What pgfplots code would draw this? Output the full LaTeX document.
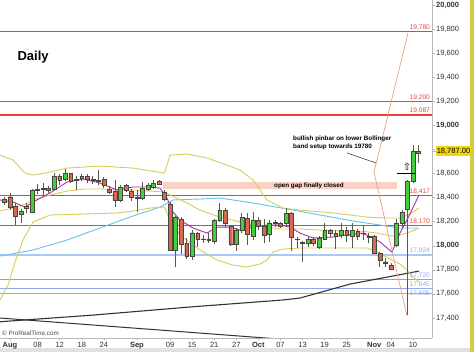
\documentclass[border=0pt]{standalone}
\usepackage{fontspec}
\setmainfont{Liberation Sans}
\newfontfamily\symfont{DejaVu Sans}
\usepackage{pgfplots}
\pgfplotsset{compat=1.18}
\usepackage{pgfplotstable}

\definecolor{cgreen}{RGB}{70,205,60}
\definecolor{cred}{RGB}{215,105,80}
\definecolor{cedge}{RGB}{70,70,60}
\definecolor{cwick}{RGB}{90,90,80}
\definecolor{bandyel}{RGB}{215,205,90}
\definecolor{magma}{RGB}{175,45,170}
\definecolor{skyb}{RGB}{100,195,240}
\definecolor{levelred}{RGB}{240,60,60}
\definecolor{lred}{RGB}{235,70,70}
\definecolor{hblue1}{RGB}{170,200,245}
\definecolor{hblue2}{RGB}{135,160,240}
\definecolor{lblue}{RGB}{140,170,240}
\definecolor{salmonline}{RGB}{240,160,130}
\definecolor{gapfill}{RGB}{250,210,195}
\definecolor{tagyel}{RGB}{240,215,20}
\definecolor{stripe}{RGB}{212,204,70}
\definecolor{bottomgray}{RGB}{225,225,225}

\pgfplotstableread{
x o h l c
-1 18385 18407 18338 18363
0 18407 18440 18296 18319
1 18330 18352 18169 18247
2 18263 18302 18186 18283
3 18310 18352 18269 18330
4 18280 18470 18269 18460
5 18462 18510 18430 18468
6 18468 18525 18425 18474
7 18460 18500 18440 18478
8 18470 18605 18460 18580
9 18580 18595 18505 18545
10 18555 18640 18535 18600
11 18600 18607 18525 18535
12 18548 18580 18460 18554
13 18560 18593 18540 18577
14 18580 18593 18525 18552
15 18552 18580 18510 18546
16 18546 18627 18505 18540
17 18552 18571 18483 18505
18 18470 18495 18430 18448
19 18455 18545 18325 18377
20 18377 18507 18360 18488
21 18500 18515 18445 18460
22 18455 18470 18375 18405
23 18393 18460 18283 18400
24 18393 18532 18380 18476
25 18470 18520 18455 18505
26 18490 18545 18470 18520
27 18535 18545 18505 18515
28 18445 18465 18370 18385
29 18347 18360 17955 17962
30 17962 18248 17820 18240
31 18220 18236 17931 18012
32 18020 18062 17886 17915
33 17915 18130 17880 18108
34 18103 18117 17992 18053
35 18056 18089 18020 18050
36 18044 18103 18025 18050
37 18034 18219 18014 18208
38 18208 18358 18200 18291
39 18291 18310 18158 18186
40 18158 18172 18000 18014
41 18014 18145 17959 18130
42 18130 18275 18103 18236
43 18227 18269 18006 18097
44 18075 18283 18047 18214
45 18208 18241 18130 18158
46 18158 18219 18020 18089
47 18097 18214 18034 18191
48 18188 18214 18158 18194
49 18186 18200 18150 18164
50 18186 18310 18172 18269
51 18269 18283 17960 18069
52 18050 18075 17978 18056
53 18028 18042 17867 18022
54 18020 18075 17992 18053
55 18053 18075 18000 18020
56 17987 18081 17970 18061
57 18053 18186 18047 18125
58 18125 18140 18075 18108
59 18103 18130 17970 18075
60 18089 18191 18061 18130
61 18125 18158 18034 18089
62 18075 18186 17978 18130
63 18117 18136 18047 18075
64 18106 18172 18047 18100
65 18080 18103 18020 18068
66 18075 18089 17931 17937
67 17937 17950 17826 17876
68 17867 17895 17820 17853
69 17840 17854 17798 17804
70 18005 18219 17986 18185
71 18185 18296 18158 18282
72 18302 18545 17424 18532
73 18532 18836 18518 18789
74 18770 18836 18684 18787
}\candles

\begin{document}
\begin{tikzpicture}
\path[use as bounding box, fill=white] (0pt,-14pt) rectangle (474pt,338pt);
\fill[bottomgray] (0pt,-14pt) rectangle (474pt,-10pt);
\fill[stripe] (470pt,-14pt) rectangle (474pt,338pt);

\begin{axis}[
  at={(0pt,0pt)}, anchor=south west, scale only axis,
  width=432pt, height=338pt,
  xmin=-1.81, xmax=76.45, ymin=17233, ymax=20042,
  axis x line*=bottom, axis y line*=right,
  axis line style={gray!55, line width=0.5pt},
  tick align=outside, major tick length=2.5pt,
  tick style={gray!60, line width=0.4pt},
  ytick={17400,17600,17800,18000,18200,18400,18600,18800,19000,19200,19400,19600,19800,20000},
  yticklabels={{17,400},{17,600},{17,800},{\textbf{18,000}},{18,200},{18,400},{18,600},{},{\textbf{19,000}},{19,200},{19,400},{19,600},{19,800},{\raisebox{-1.2pt}{\textbf{20,000}}}},
  yticklabel pos=right,
  yticklabel style={font=\fontsize{7.5}{8}\selectfont, text=black!80, inner sep=0.4pt, xshift=1pt},
  xtick={0,5,9,13,17,23,29,33,37,41,45,49,53,57,61,66,69,73},
  xticklabels={\textbf{Aug},08,12,18,24,\textbf{Sep},09,15,21,27,\textbf{Oct},07,13,19,25,\textbf{Nov},04,10},
  xticklabel style={font=\fontsize{7.5}{9}\selectfont, text=black!80, inner sep=1.5pt},
]
% gap box
\addplot [fill=gapfill, draw=none, forget plot] coordinates {(27.72,18471) (70.1,18471) (70.1,18529) (27.72,18529)} -- cycle;
% horizontal red levels
\addplot [color=levelred, line width=1.2pt, forget plot] coordinates {(-1.81,19780) (76.45,19780)};
\addplot [color=levelred, line width=1.2pt, forget plot] coordinates {(-1.81,19200) (76.45,19200)};
\addplot [color=levelred, line width=1.2pt, forget plot] coordinates {(-1.81,19087) (76.45,19087)};
\addplot [color=levelred, line width=1.2pt, forget plot] coordinates {(-1.81,18417) (76.45,18417)};
\addplot [color=levelred, line width=1.2pt, forget plot] coordinates {(-1.81,18170) (76.45,18170)};
% blue levels
\addplot [color=hblue1, line width=2.5pt, forget plot] coordinates {(-1.81,17924) (76.45,17924)};
\addplot [color=hblue2, line width=1.1pt, forget plot] coordinates {(-1.81,17720) (76.45,17720)};
\addplot [color=lblue, line width=1.3pt, forget plot] coordinates {(-1.81,17645) (76.45,17645)};
\addplot [color=lblue, line width=1.3pt, forget plot] coordinates {(-1.81,17605) (76.45,17605)};
% 200 MA and descending line
\addplot [color=black!80, line width=1.1pt, forget plot] coordinates {(-1.81,17368) (15.22,17424) (32.43,17490) (49.46,17549) (52.54,17565) (61.59,17681) (74.09,17789)};
\addplot [color=black!80, line width=1.0pt, forget plot] coordinates {(-1.81,17399) (48.91,17224)};
% 50 MA
\addplot [color=skyb, line width=0.9pt, forget plot] coordinates {(-1.81,17914) (4.17,17964) (10.33,18047) (16.30,18147) (22.28,18247) (27.17,18321) (29.53,18380) (34.42,18388) (38.04,18396) (44.02,18355) (50.18,18305) (56.16,18255) (62.14,18205) (68.30,18163) (70.65,18147) (74.09,18147)};
% Bollinger bands
\addplot [color=bandyel, line width=0.9pt, forget plot] coordinates {(-1.81,18753) (0.54,18712) (2.72,18604) (4.17,18587) (7.25,18612) (10.33,18645) (16.30,18662) (22.28,18645) (28,18604) (29,18753) (32.07,18762) (35.69,18729) (39.31,18670) (41.67,18629) (44.02,18546) (46.56,18380) (49.46,18313) (52.54,18296) (58.51,18272) (64.67,18238) (68.30,18230) (70.65,18230) (72.46,18263) (74.09,18313)};
\addplot [color=bandyel, line width=0.9pt, forget plot] coordinates {(-1.81,18288) (0.54,18313) (2.72,18346) (4.17,18380) (7.25,18421) (10.33,18454) (13.22,18471) (16.30,18471) (22.28,18463) (28,18446) (29,18421) (32.07,18355) (34.42,18296) (38.04,18238) (41.67,18197) (45.29,18163) (48.91,18139) (52.54,18139) (56.16,18130) (59.78,18122) (63.41,18122) (66.49,18105) (69.20,18080) (70.65,18089) (72.46,18114) (74.09,18147)};
\addplot [color=bandyel, line width=0.9pt, forget plot] coordinates {(-1.81,17549) (-0.36,17673) (0.91,17864) (2.36,18047) (4.17,18197) (7.25,18255) (13.22,18263) (19.38,18272) (22.28,18288) (25.36,18313) (28,18321) (29,18213) (30.80,18089) (34.42,17964) (37.50,17881) (40.40,17839) (42.93,17823) (45.29,17848) (46.56,17881) (47.64,17947) (49.46,17972) (52.54,17981) (58.51,17981) (64.67,17981) (66.49,17947) (69.20,17881) (70.65,17848) (71.92,17798) (73.01,17740) (74.09,17698)};
% short MA
\addplot [color=magma, line width=0.9pt, forget plot] coordinates {(-1.81,18380) (0.54,18363) (2.72,18321) (4.17,18363) (7.25,18438) (10.33,18529) (13.22,18554) (16.30,18521) (19.38,18463) (22.28,18488) (25.36,18488) (27.17,18479) (28.44,18396) (29.53,18280) (30.80,18213) (33.15,18147) (35.69,18105) (37.50,18155) (39.86,18155) (41.67,18130) (44.02,18155) (46.56,18172) (48.91,18172) (50.72,18155) (52.54,18105) (54.89,18064) (58.51,18072) (61.05,18089) (63.41,18105) (64.67,18089) (67.03,18031) (69.20,17947) (70.65,18105) (72.10,18230) (74.09,18421)};
% projection line
\addplot [color=salmonline, line width=0.7pt, forget plot] coordinates {(72.10,19767) (65.94,18612) (71.92,17416)};
% wicks
\addplot [draw=none, forget plot, error bars/.cd, y dir=plus, y explicit, error mark=none,
  error bar style={draw=cwick, line width=0.7pt}]
  table [x=x, y=l, y error expr=\thisrow{h}-\thisrow{l}] {\candles};
% level labels
\begin{scope}[every node/.style={font=\fontsize{6.6}{7.5}\selectfont, inner sep=1.1pt, anchor=south east}]
\node[text=lred] at (axis cs:76.3,19780) {19,780};
\node[text=lred] at (axis cs:76.3,19200) {19,200};
\node[text=lred] at (axis cs:76.3,19087) {19,087};
\node[text=lred] at (axis cs:76.3,18417) {18,417};
\node[text=lred] at (axis cs:76.3,18170) {18,170};
\node[text=lblue] at (axis cs:76.3,17924) {17,924};
\node[text=lblue] at (axis cs:76.3,17720) {17,720};
\node[text=lblue] at (axis cs:76.3,17645) {17,645};
\node[text=lblue, anchor=east] at (axis cs:76.3,17605) {17,605};
\end{scope}
\end{axis}

\begin{axis}[
  at={(0pt,0pt)}, anchor=south west, scale only axis,
  width=432pt, height=338pt,
  xmin=-1.81, xmax=76.45, ymin=17233, ymax=20042,
  hide axis, ybar stacked, bar width=0.7,
]
\addplot [draw=none, fill=none] table [x=x, y expr={min(\thisrow{o},\thisrow{c})}] {\candles};
\addplot [draw=cedge, fill=cgreen, line width=0.4pt] table [x=x, y expr={max(\thisrow{c}-\thisrow{o},0)}] {\candles};
\addplot [draw=cedge, fill=cred, line width=0.4pt] table [x=x, y expr={max(\thisrow{o}-\thisrow{c},0)}] {\candles};
\end{axis}

% annotations
\node[anchor=west, font=\fontsize{13}{15}\selectfont\bfseries] at (14pt,281pt) {Daily};
\node[anchor=west, font=\fontsize{6.3}{7}\selectfont, text=black!70, inner sep=0pt] at (2pt,5pt) {© ProRealTime.com};
\node[anchor=north west, align=left, font=\fontsize{6.3}{7.6}\selectfont\bfseries, inner sep=0pt] at (293pt,202pt) {bullish pinbar on lower Bollinger\\band setup towards 19780};
\draw[black!75, line width=0.6pt] (347pt,185pt) -- (376pt,175pt);
\node[font=\fontsize{6.3}{7.5}\selectfont\bfseries, inner sep=0pt] at (309pt,152.5pt) {open gap finally closed};
\draw[black, line width=0.7pt] (397pt,165pt) -- (415pt,165pt);
\node[font=\symfont\fontsize{10}{10}\selectfont, inner sep=0pt] at (407pt,171pt) {⇧};
\fill[tagyel] (436pt,182pt) rectangle (471pt,192pt);
\draw[gray!60, line width=0.4pt] (432pt,187pt) -- (436pt,187pt);
\node[font=\fontsize{7.5}{9}\selectfont, inner sep=0pt] at (453.5pt,187pt) {18,787.00};
\end{tikzpicture}
\end{document}
